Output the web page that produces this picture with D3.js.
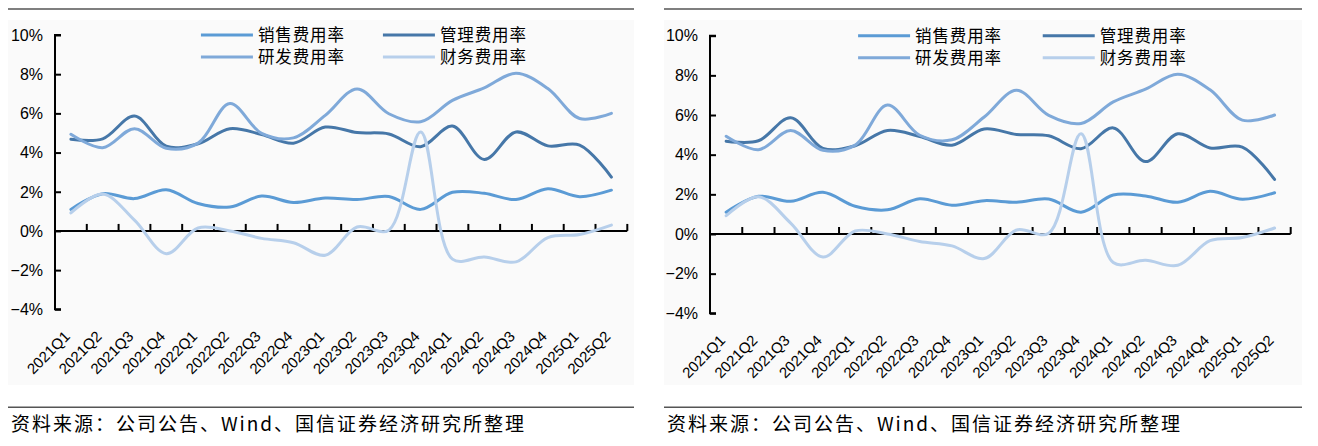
<!DOCTYPE html>
<html>
<head>
<meta charset="utf-8">
<script src="https://cdn.jsdelivr.net/npm/d3@7"></script>
<style>
  body { margin: 0; background: #fff; }
  svg { display: block; }
</style>
</head>
<body>
<script>
// chart data (percent)
const quarters = ["2021Q1","2021Q2","2021Q3","2021Q4","2022Q1","2022Q2","2022Q3","2022Q4",
  "2023Q1","2023Q2","2023Q3","2023Q4","2024Q1","2024Q2","2024Q3","2024Q4","2025Q1","2025Q2"];
const salesRate = [1.1, 1.9, 1.65, 2.1, 1.4, 1.22, 1.78, 1.45, 1.68, 1.6, 1.76, 1.1, 1.97, 1.92, 1.6, 2.15, 1.75, 2.08];
const adminRate = [4.68, 4.7, 5.86, 4.32, 4.45, 5.22, 4.92, 4.48, 5.3, 5.02, 4.95, 4.3, 5.35, 3.65, 5.05, 4.34, 4.38, 2.75];
const rndRate   = [4.93, 4.25, 5.22, 4.22, 4.48, 6.5, 4.98, 4.75, 5.9, 7.25, 5.98, 5.57, 6.66, 7.3, 8.05, 7.27, 5.74, 6.0];
const finRate   = [0.92, 1.88, 0.55, -1.16, 0.15, 0.0, -0.38, -0.6, -1.24, 0.2, 0.04, 5.05, -1.44, -1.33, -1.58, -0.34, -0.18, 0.3];
const seriesNames = ["销售费用率", "管理费用率", "研发费用率", "财务费用率"];
const yTicks = [-4, -2, 0, 2, 4, 6, 8, 10];
const sourceNote = "资料来源：公司公告、Wind、国信证券经济研究所整理";

const seriesValues = [salesRate, adminRate, rndRate, finRate];
const colors = ["#5b9bd5", "#4677a8", "#7fa9d9", "#b7cfeb"];

const width = 1318, height = 446;
const svg = d3.select("body").append("svg")
  .attr("width", width)
  .attr("height", height);

const axisFont = "'Liberation Sans Narrow', 'Liberation Sans', Arial, sans-serif";
const cjkFont = "'Noto Sans CJK SC', 'Noto Sans', sans-serif";

// two copies of the same chart
const panels = [
  {left: 8,   right: 634,  ax0: 55,  ax1: 627.3,  yTop: 35,   yBot: 309.3},
  {left: 664, right: 1302, ax0: 710, ax1: 1290.7, yTop: 35.7, yBot: 313.3}
];

panels.forEach(p => drawPanel(p));

function drawPanel(p) {
  let g = svg.append("g");

  // faint panel background
  g.append("rect")
    .attr("x", p.left).attr("y", 20)
    .attr("width", p.right - p.left).attr("height", 365)
    .attr("fill", "#fafafa");

  // rules top and bottom
  g.append("line")
    .attr("x1", p.left).attr("x2", p.right)
    .attr("y1", 9).attr("y2", 9)
    .attr("stroke", "#555").attr("stroke-width", 1.5);
  g.append("line")
    .attr("x1", p.left).attr("x2", p.right)
    .attr("y1", 407.3).attr("y2", 407.3)
    .attr("stroke", "#555").attr("stroke-width", 1.5);

  let x = d3.scaleBand().domain(quarters).range([p.ax0, p.ax1]);
  let y = d3.scaleLinear().domain([-4, 10]).range([p.yBot, p.yTop]);

  // y axis
  let yAxis = g.append("g")
    .attr("transform", "translate(" + p.ax0 + ",0)")
    .call(d3.axisRight(y).tickValues(yTicks).tickSize(6).tickFormat(""));
  yAxis.select(".domain").attr("stroke", "#000").attr("stroke-width", 2)
    .attr("d", "M6," + y(10) + "H0V" + y(-4) + "H6");
  yAxis.selectAll(".tick line").attr("stroke", "#000").attr("stroke-width", 2);

  g.selectAll(".ylab")
    .data(yTicks)
    .enter().append("text")
    .attr("x", p.ax0 - 12)
    .attr("y", d => y(d))
    .attr("dy", "0.36em")
    .attr("text-anchor", "end")
    .style("font-family", axisFont)
    .style("font-size", "16px")
    .attr("fill", "#000")
    .text(d => (d < 0 ? "\u2212" + Math.abs(d) : d) + "%");

  // x axis at 0%, ticks on band edges pointing up
  let edges = quarters.map(q => x(q)).concat([p.ax1]);
  g.append("line")
    .attr("x1", p.ax0).attr("x2", p.ax1)
    .attr("y1", y(0)).attr("y2", y(0))
    .attr("stroke", "#000").attr("stroke-width", 2);
  g.selectAll(".xtick")
    .data(edges.slice(1))
    .enter().append("line")
    .attr("x1", d => d).attr("x2", d => d)
    .attr("y1", y(0)).attr("y2", y(0) - 7)
    .attr("stroke", "#000").attr("stroke-width", 2);

  // rotated category labels under the plot
  g.selectAll(".xlab")
    .data(quarters)
    .enter().append("text")
    .attr("transform", d => "translate(" + (x(d) + x.bandwidth() / 2) + "," + (p.yBot + 28) + ") rotate(-45)")
    .attr("text-anchor", "end")
    .style("font-family", axisFont)
    .style("font-size", "15px")
    .attr("fill", "#000")
    .text(d => d);

  // series lines
  let line = d3.line()
    .x((d, i) => x(quarters[i]) + x.bandwidth() / 2)
    .y(d => y(d))
    .curve(d3.curveCatmullRom.alpha(0.5));

  g.selectAll(".series")
    .data(seriesValues)
    .enter().append("path")
    .attr("d", d => line(d))
    .attr("fill", "none")
    .attr("stroke", (d, i) => colors[i])
    .attr("stroke-width", 3)
    .attr("stroke-linejoin", "round")
    .attr("stroke-linecap", "round");

  // legend, two columns by two rows
  let plotW = p.ax1 - p.ax0;
  let colX = [p.ax0 + plotW * 0.255, p.ax0 + plotW * 0.573];
  let rowY = [p.yTop, p.yTop + 22];
  seriesNames.forEach((name, i) => {
    let lx = colX[i % 2], ly = rowY[Math.floor(i / 2)];
    g.append("line")
      .attr("x1", lx).attr("x2", lx + 52)
      .attr("y1", ly).attr("y2", ly)
      .attr("stroke", colors[i]).attr("stroke-width", 3);
    g.append("text")
      .attr("x", lx + 57).attr("y", ly)
      .attr("dy", "0.36em")
      .attr("textLength", 86)
      .attr("lengthAdjust", "spacing")
      .style("font-family", cjkFont)
      .style("font-size", "16.5px")
      .attr("fill", "#000")
      .text(name);
  });

  // source note
  g.append("text")
    .attr("x", p.left + 3).attr("y", 431)
    .attr("textLength", 513)
    .attr("lengthAdjust", "spacing")
    .style("font-family", cjkFont)
    .style("font-size", "19px")
    .attr("fill", "#000")
    .text(sourceNote);
}
</script>
</body>
</html>
